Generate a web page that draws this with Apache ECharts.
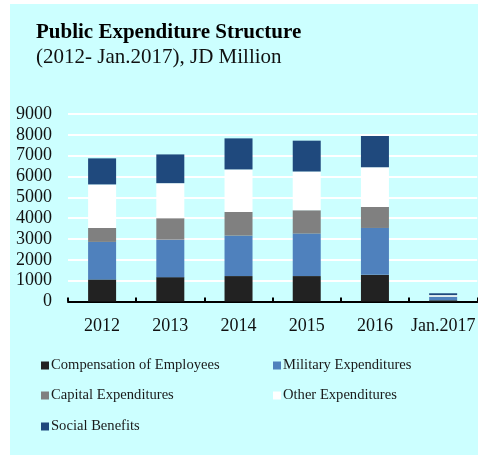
<!DOCTYPE html>
<html>
<head>
<meta charset="utf-8">
<script src="https://cdn.jsdelivr.net/npm/echarts@6/dist/echarts.min.js"></script>
<style>
  html, body { margin: 0; padding: 0; background: #ffffff; }
  #bg { position: absolute; left: 10px; top: 4px; width: 468px; height: 451px; background: #CCFFFF; }
  #chart { position: absolute; left: 0; top: 0; width: 478px; height: 455px; }
</style>
</head>
<body>
<div id="bg"></div>
<div id="chart"></div>
<script>
const categories = ['2012', '2013', '2014', '2015', '2016', 'Jan.2017'];
const compensation = [1060, 1170, 1220, 1220, 1280, 60];
const military = [1800, 1800, 1940, 2040, 2250, 160];
const capital = [670, 1030, 1140, 1120, 1010, 15];
const other = [2090, 1680, 2040, 1860, 1900, 70];
const social = [1250, 1380, 1490, 1480, 1510, 90];
const seriesNames = ['Compensation of Employees', 'Military Expenditures', 'Capital Expenditures', 'Other Expenditures', 'Social Benefits'];
const seriesColors = ['#222222', '#4F81BD', '#808080', '#FFFFFF', '#1F497D'];
const seriesData = [compensation, military, capital, other, social];

const FONT = '"Liberation Serif", "Times New Roman", serif';
const chart = echarts.init(document.getElementById('chart'), null, { renderer: 'canvas' });

const legendPos = [
  { left: 41, top: 358 },
  { left: 273, top: 358 },
  { left: 41, top: 388 },
  { left: 273, top: 388 },
  { left: 41, top: 419 }
];

const option = {
  animation: false,
  backgroundColor: 'transparent',
  title: [
    { text: 'Public Expenditure Structure', left: 36, top: 22, padding: 0,
      textStyle: { fontFamily: FONT, fontSize: 21, fontWeight: 'bold', color: '#000' } },
    { text: '(2012- Jan.2017), JD Million', left: 36, top: 47, padding: 0,
      textStyle: { fontFamily: FONT, fontSize: 21, fontWeight: 'normal', color: '#111' } }
  ],
  legend: seriesNames.map((n, i) => ({
    data: [n], left: legendPos[i].left, top: legendPos[i].top,
    icon: 'rect', itemWidth: 8, itemHeight: 8, padding: 0,
    textStyle: { fontFamily: FONT, fontSize: 14.6, color: '#1a1a1a', padding: [0, 0, 0, -3] },
    selectedMode: false
  })),
  grid: { left: 68, right: -4, top: 114, bottom: 153.5, containLabel: false },
  xAxis: {
    type: 'category', data: categories, boundaryGap: true,
    axisLine: { lineStyle: { color: '#000', width: 2 } },
    axisTick: { show: true, inside: true, length: 4, lineStyle: { color: '#000', width: 2 } },
    axisLabel: { fontFamily: FONT, fontSize: 18, color: '#111', margin: 16, interval: 0 }
  },
  yAxis: {
    type: 'value', min: 0, max: 9000, interval: 1000,
    axisLine: { show: false }, axisTick: { show: false },
    splitLine: { lineStyle: { color: '#FFFFFF', width: 2 } },
    axisLabel: { fontFamily: FONT, fontSize: 18, color: '#111', margin: 16, formatter: v => String(v) }
  },
  series: seriesNames.map((n, i) => ({
    name: n, type: 'bar', stack: 'total', data: seriesData[i], barWidth: 28,
    itemStyle: { color: seriesColors[i] }
  }))
};
chart.setOption(option);
</script>
</body>
</html>
